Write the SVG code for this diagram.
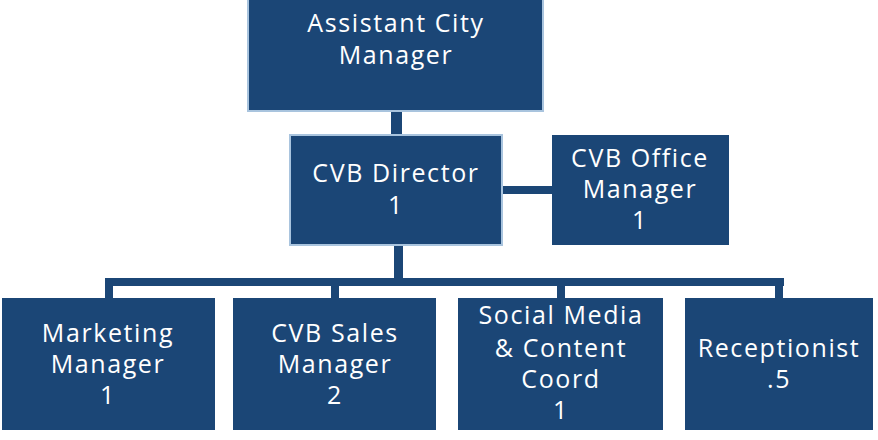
<svg xmlns="http://www.w3.org/2000/svg" width="878" height="440" viewBox="0 0 878 440">
<style>
.box{fill:#1b4676}
.bord{fill:#1b4676;stroke:#a9c4de;stroke-width:2}
.t{fill:#ffffff;font-family:"Open Sans","Liberation Sans",sans-serif;font-size:25px;text-anchor:middle;letter-spacing:1.6px}
.c{fill:#1b4676}
</style>
<rect width="878" height="440" fill="#ffffff"/>
<g id="connectors">
<rect class="c" x="391" y="110" width="11" height="27"/>
<rect class="c" x="501" y="186" width="52" height="8"/>
<rect class="c" x="394" y="244" width="9" height="40"/>
<rect class="c" x="105" y="278" width="679" height="8"/>
<rect class="c" x="105" y="278" width="8" height="22"/>
<rect class="c" x="331" y="278" width="8" height="22"/>
<rect class="c" x="557" y="278" width="8" height="22"/>
<rect class="c" x="775" y="278" width="8" height="22"/>
</g>
<g id="assistant-city-manager">
<rect class="bord" x="248" y="-2" width="295" height="113"/>
<text class="t" x="396" y="32">Assistant City</text>
<text class="t" x="396" y="64">Manager</text>
</g>
<g id="cvb-director">
<rect class="bord" x="290" y="135" width="212" height="110"/>
<text class="t" x="396" y="182">CVB Director</text>
<text class="t" x="396" y="214">1</text>
</g>
<g id="cvb-office-manager">
<rect class="box" x="552" y="135" width="177" height="110"/>
<text class="t" x="640" y="167">CVB Office</text>
<text class="t" x="640" y="198">Manager</text>
<text class="t" x="640" y="229">1</text>
</g>
<g id="marketing-manager">
<rect class="box" x="2" y="298" width="213" height="132"/>
<text class="t" x="108" y="342">Marketing</text>
<text class="t" x="108" y="373">Manager</text>
<text class="t" x="108" y="404">1</text>
</g>
<g id="cvb-sales-manager">
<rect class="box" x="233" y="298" width="203" height="132"/>
<text class="t" x="335" y="342">CVB Sales</text>
<text class="t" x="335" y="373">Manager</text>
<text class="t" x="335" y="404">2</text>
</g>
<g id="social-media">
<rect class="box" x="458" y="298" width="205" height="132"/>
<text class="t" x="561" y="324">Social Media</text>
<text class="t" x="561" y="357">&amp; Content</text>
<text class="t" x="561" y="388">Coord</text>
<text class="t" x="561" y="419">1</text>
</g>
<g id="receptionist">
<rect class="box" x="685" y="298" width="188" height="132"/>
<text class="t" x="779" y="357">Receptionist</text>
<text class="t" x="779" y="388">.5</text>
</g>
</svg>
